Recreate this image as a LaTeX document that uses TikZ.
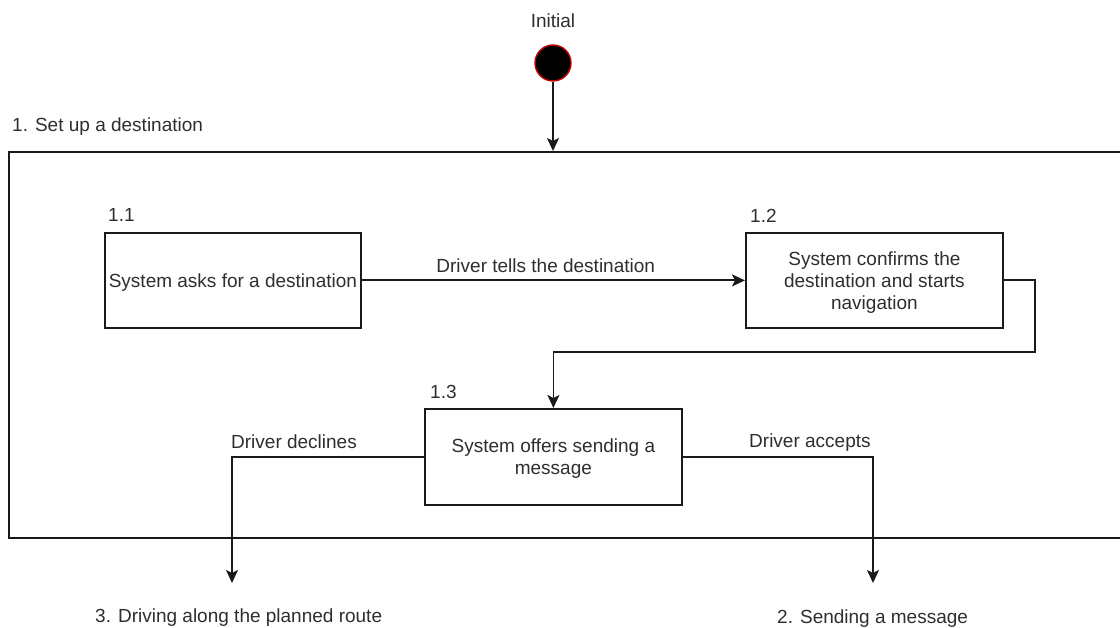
\documentclass[tikz,border=0pt]{standalone}
\usepackage{fontspec}
\setmainfont{Liberation Sans}
\usetikzlibrary{arrows.meta}
\definecolor{ln}{HTML}{1A1A1A}
\definecolor{txt}{HTML}{2E2E2E}
\definecolor{initred}{HTML}{C00000}
\begin{document}
\begin{tikzpicture}[x=1pt,y=-1pt,
  lbl/.style={text=txt, font=\fontsize{19}{22}\selectfont, inner sep=0pt},
  box/.style={draw=ln, line width=1.8pt, anchor=north west, inner sep=0pt,
    text=txt, font=\fontsize{19}{22}\selectfont, align=center, text depth=0pt},
  arr/.style={draw=ln, line width=1.8pt, -{Stealth[length=13pt,width=12pt,inset=3pt]}},
  startnode/.style={circle, fill=black, draw=initred, line width=1.4pt, minimum size=36pt, inner sep=0pt}
]
\useasboundingbox (0,0) rectangle (1120,628);

% outer frame
\node[draw=ln, line width=1.8pt, anchor=north west, minimum width=1130pt, minimum height=386pt, inner sep=0pt] (big) at (8,151) {};
\node[lbl, anchor=base west] (bigl) at (12,132) {1. Set up a destination};

% initial state
\node[lbl, anchor=base] (initl) at (553,28) {Initial};
\node[startnode] (init) at (553,63) {};

% boxes
\node[box, minimum width=256pt, minimum height=95pt] (a) at (104,232) {System asks for a destination};
\node[lbl, anchor=base west] (al) at (108,222) {1.1};
\node[box, minimum width=257pt, minimum height=95pt] (b) at (745,232) {System confirms the\\destination and starts\\navigation};
\node[lbl, anchor=base west] (bl) at (750,223) {1.2};
\node[box, minimum width=257pt, minimum height=96pt] (c) at (424,408) {System offers sending a\\message};
\node[lbl, anchor=base west] (cl) at (430,399) {1.3};

% targets
\node[lbl, anchor=base west] (d3) at (95,622) {3. Driving along the planned route};
\node[lbl, anchor=base west] (d2) at (777,623) {2. Sending a message};
\coordinate (e3) at (232,583);
\coordinate (e2) at (873,583);

% connectors
\draw[arr] (init) -- (init |- big.north);
\draw[arr] (a) -- node[lbl, pos=0.48, yshift=15pt] (tl) {Driver tells the destination} (b);
\draw[arr] (b.east) -- ++(31,0) -- ++(0,72) -| (c.north);
\draw[arr] (c.west) -| (e3);
\draw[arr] (c.east) -| (e2);
\node[lbl, anchor=base west] (decl) at (231,448) {Driver declines};
\node[lbl, anchor=base west] (accl) at (749,447) {Driver accepts};
\end{tikzpicture}
\end{document}
